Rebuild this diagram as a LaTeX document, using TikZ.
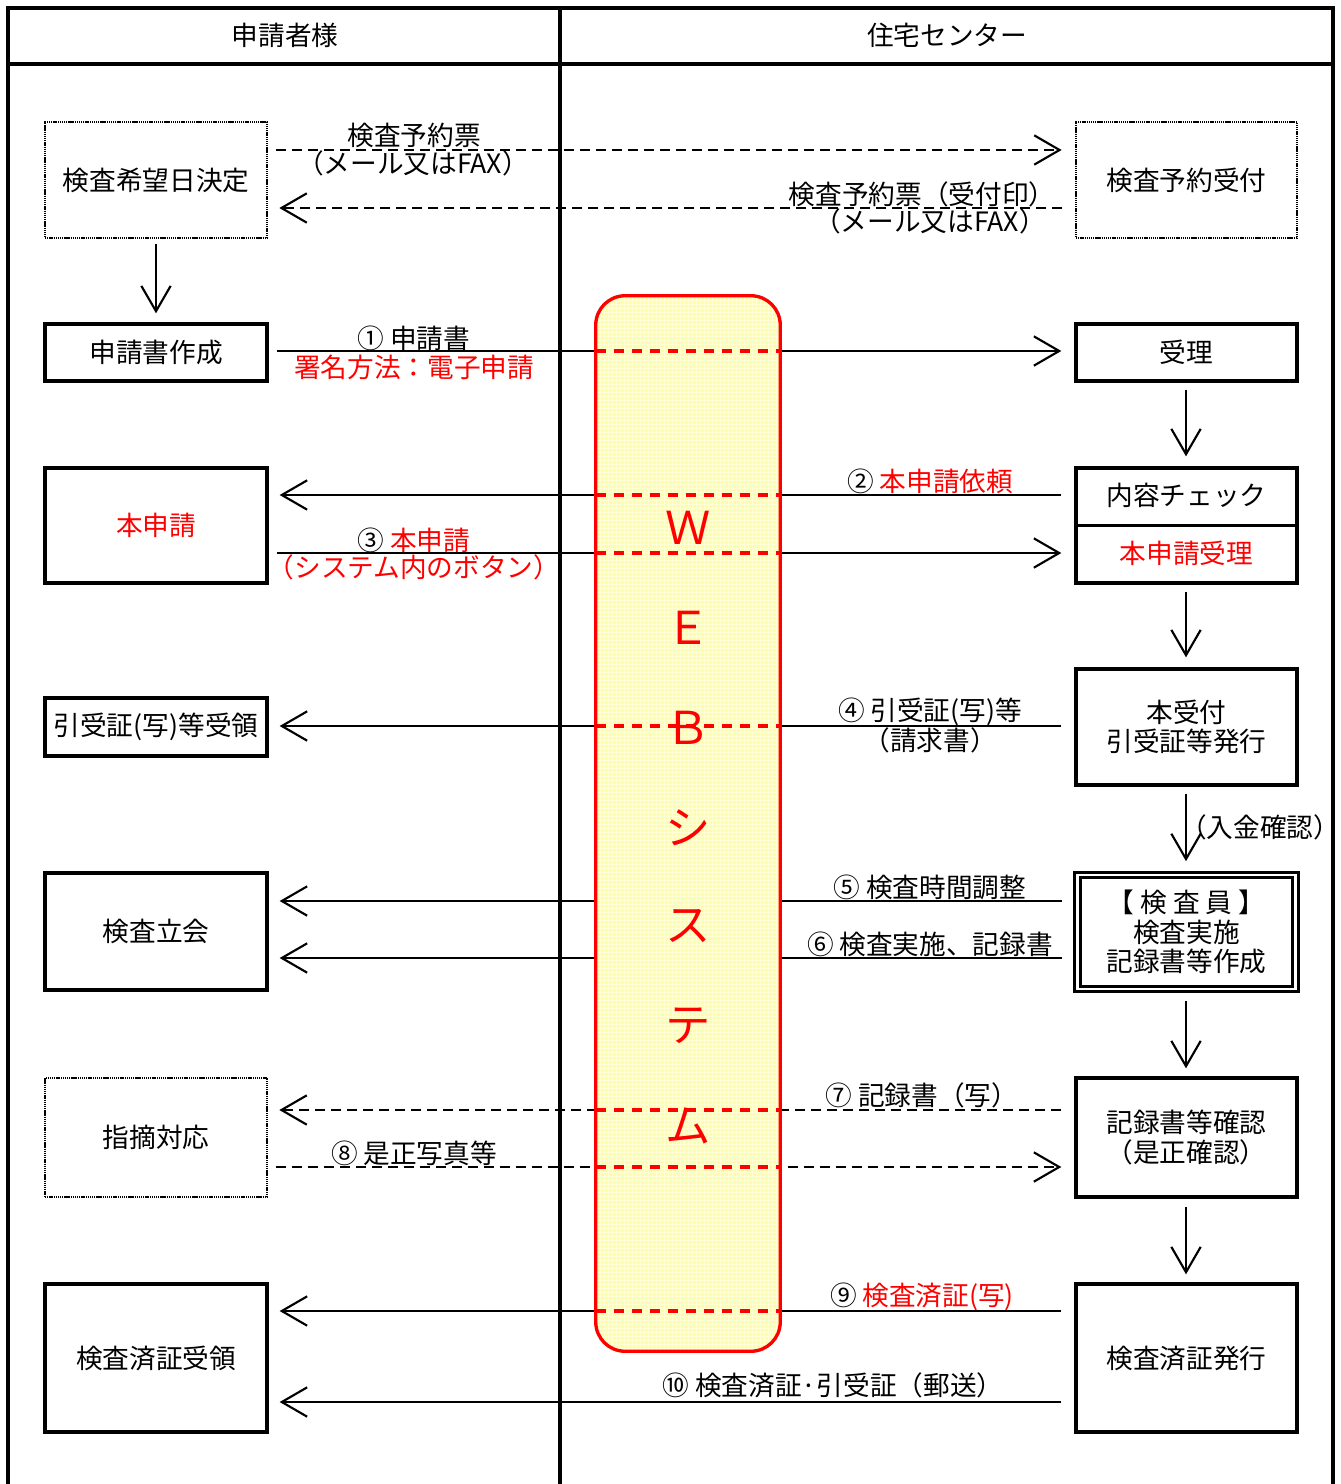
\documentclass[tikz,border=0pt]{standalone}
\usepackage{fontspec}
\setmainfont{Noto Sans CJK JP}
\usetikzlibrary{arrows.meta,calc,patterns}
\definecolor{wfill}{RGB}{255,255,160}
\definecolor{wgrid}{RGB}{255,255,215}
\begin{document}
\begin{tikzpicture}[x=0.75pt,y=-0.75pt,
 every node/.style={font=\fontsize{20}{22}\selectfont, inner sep=0pt},
 box/.style={draw, line width=2.5pt, minimum width=166.5pt, align=center},
 dbox/.style={draw, line width=2pt, dash pattern=on 1pt off 0.6pt, minimum width=166.5pt, align=center},
 rbox/.style={box, minimum width=165.75pt},
 rdbox/.style={dbox, minimum width=165.75pt},
 arr/.style={line width=1.6pt, -{Straight Barb[length=19pt,width=22pt]}},
 darr/.style={arr, dash pattern=on 7.5pt off 4.5pt},
 redd/.style={red, line width=2.4pt, dash pattern=on 7.5pt off 6pt},
 frame/.style={line width=2.5pt},
 webtxt/.style={text=red, font=\fontsize{34}{34}\selectfont}]
\useasboundingbox (0,0) rectangle (1341,1484);
% frame
\draw[frame] (8,1484) -- (8,8) -- (1333,8) -- (1333,1484);
\draw[frame] (8,64) -- (1333,64);
\draw[frame] (560,8) -- (560,1484);
\node (h1) at (285,35) {申請者様};
\node (h2) at (947,35) {住宅センター};
% left boxes
\node[dbox, minimum height=87pt] (L1) at (156,180) {検査希望日決定};
\node[box, minimum height=42.75pt] (L2) at (156,352.5) {申請書作成};
\node[box, minimum height=86.25pt, text=red] (L3) at (156,525.5) {本申請};
\node[box, minimum height=43.5pt] (L4) at (156,727) {引受証(写)等受領};
\node[box, minimum height=87.75pt] (L5) at (156,931.5) {検査立会};
\node[dbox, minimum height=89.25pt] (L6) at (156,1137.5) {指摘対応};
\node[box, minimum height=111pt] (L7) at (156,1358) {検査済証受領};
% right boxes
\node[rdbox, minimum height=87pt] (R1) at (1186.5,180) {検査予約受付};
\node[rbox, minimum height=42.75pt] (R2) at (1186.5,352.5) {受理};
\node[rbox, minimum height=86.25pt] (R3) at (1186.5,525.5) {};
\draw[line width=2.5pt] (R3.west) -- (R3.east);
\node (R3a) at ($(R3.center)+(0,-30)$) {内容チェック};
\node[text=red] (R3b) at ($(R3.center)+(0,28)$) {本申請受理};
\node[rbox, minimum height=87pt] (R4) at (1186.5,727) {本受付\\引受証等発行};
\node[draw, line width=2pt, double, double distance=2.2pt, minimum width=163.5pt, minimum height=85.5pt, align=center] (R5) at (1186.5,932) {【 検 査 員 】\\検査実施\\記録書等作成};
\node[rbox, minimum height=89.25pt] (R6) at (1186.5,1137.5) {記録書等確認\\（是正確認）};
\node[rbox, minimum height=111pt] (R7) at (1186.5,1358) {検査済証発行};
% vertical arrows
\draw[arr] ($(L1.south)+(0,5)$) -- ($(L2.north)+(0,-9)$);
\draw[arr] ($(R2.south)+(-0.5,7)$) -- ($(R3.north)+(-0.5,-10)$);
\draw[arr] ($(R3.south)+(-0.5,7)$) -- ($(R4.north)+(-0.5,-10)$);
\draw[arr] ($(R4.south)+(-0.5,7)$) -- ($(R5.north)+(-0.5,-12.5)$);
\draw[arr] ($(R5.south)+(-0.5,10.5)$) -- ($(R6.north)+(-0.5,-8)$);
\draw[arr] ($(R6.south)+(-0.5,8)$) -- ($(R7.north)+(-0.5,-8)$);
% horizontal connectors
\coordinate (a1) at ($(L1.east)+(8,-30)$);
\draw[darr] (a1) -- ($(R1.west)+(-13,-30)$);
\draw[darr] ($(R1.west)+(-13,28)$) -- ($(L1.east)+(11,28)$);
\coordinate (a3) at ($(L2.east)+(8,-1.5)$);
\draw[arr] (a3) -- ($(R2.west)+(-13,-1.5)$);
\coordinate (a4) at ($(R3.west)+(-13,-30.5)$);
\draw[arr] (a4) -- ($(L3.east)+(11,-30.5)$);
\coordinate (a5) at ($(L3.east)+(8,27.5)$);
\draw[arr] (a5) -- ($(R3.west)+(-13,27.5)$);
\coordinate (a6) at ($(R4.west)+(-13,-1)$);
\draw[arr] (a6) -- ($(L4.east)+(11,-1)$);
\draw[arr] ($(R5.west)+(-14,-31)$) -- ($(L5.east)+(11,-30.5)$);
\draw[arr] ($(R5.west)+(-14,26)$) -- ($(L5.east)+(11,26.5)$);
\coordinate (a9) at ($(R6.west)+(-13,-27.5)$);
\draw[darr] (a9) -- ($(L6.east)+(11,-27.5)$);
\coordinate (a10) at ($(L6.east)+(8,29.5)$);
\draw[darr] (a10) -- ($(R6.west)+(-13,29.5)$);
\coordinate (a11) at ($(R7.west)+(-13,-47)$);
\draw[arr] (a11) -- ($(L7.east)+(11,-47)$);
\draw[arr] ($(R7.west)+(-13,44)$) -- ($(L7.east)+(11,44)$);
% WEB system
\node[fill=wfill, rounded corners=22pt, minimum width=138pt, minimum height=791.25pt, postaction={pattern=grid, pattern color=wgrid}] (web) at (688,823.5) {};
\draw[red, line width=2.5pt, rounded corners=22pt] (web.south west) rectangle (web.north east);
\foreach \c in {a3,a4,a5,a6,a9,a10,a11}{
  \draw[redd] (web.west |- \c) -- (web.east |- \c);
}
\node[webtxt] (w1) at (688,528) {Ｗ};
\node[webtxt] (w2) at (688,628) {Ｅ};
\node[webtxt] (w3) at (688,728) {Ｂ};
\node[webtxt] (w4) at (688,828) {シ};
\node[webtxt] (w5) at (688,926) {ス};
\node[webtxt] (w6) at (688,1026) {テ};
\node[webtxt] (w7) at (688,1126) {ム};
% labels
\node (t1a) at (414,135) {検査予約票};
\node (t1b) at (413,163) {（メール又はFAX）};
\node (t2a) at (922,194) {検査予約票（受付印）};
\node (t2b) at (930,221) {（メール又はFAX）};
\node (t3a) at (414,338) {① 申請書};
\node[text=red] (t3b) at (414,367) {署名方法：電子申請};
\node (t4) at (930,481) {② \textcolor{red}{本申請依頼}};
\node (t5a) at (414,540) {③ \textcolor{red}{本申請}};
\node[text=red] (t5b) at (414,567) {（システム内のボタン）};
\node (t6a) at (930,712) {④ 引受証(写)等};
\node (t6b) at (930,740) {（請求書）};
\node (t7) at (930,887) {⑤ 検査時間調整};
\node (t8) at (930,944) {⑥ 検査実施、記録書};
\node (t9) at (922,1095) {⑦ 記録書（写）};
\node (t10) at (414,1153) {⑧ 是正写真等};
\node (t11) at (922,1297) {⑨ \textcolor{red}{検査済証(写)}};
\node (t12) at (833,1385) {⑩ 検査済証·引受証（郵送）};
\node (t13) at (1260,827) {（入金確認）};
\end{tikzpicture}
\end{document}
